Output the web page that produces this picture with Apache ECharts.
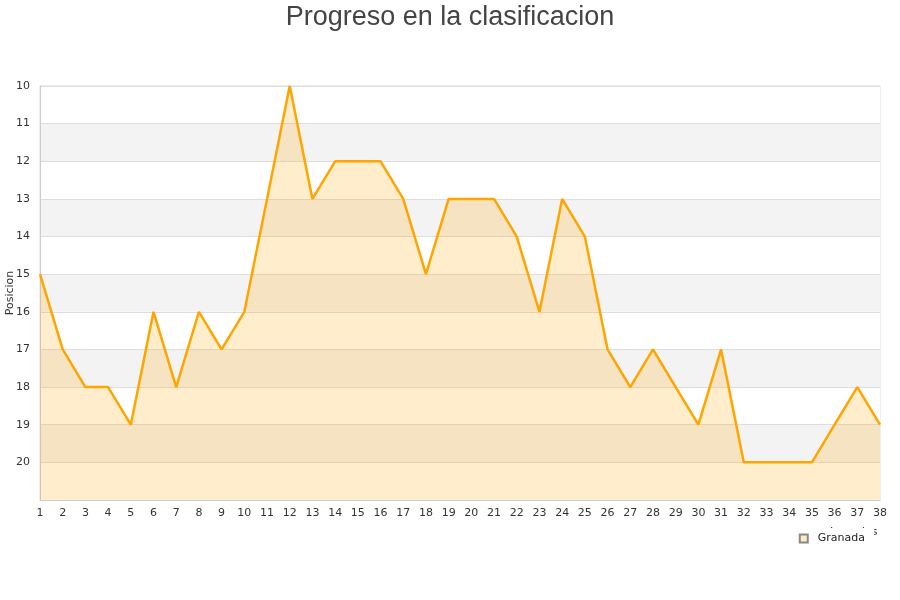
<!DOCTYPE html>
<html>
<head>
<meta charset="utf-8">
<script src="https://cdn.jsdelivr.net/npm/echarts@6/dist/echarts.min.js"></script>
<style>html,body{margin:0;padding:0;background:#fff;}#c{width:900px;height:600px;}</style>
</head>
<body>
<div id="c"></div>
<script>
const jornadas = ['1','2','3','4','5','6','7','8','9','10','11','12','13','14','15','16','17','18','19','20','21','22','23','24','25','26','27','28','29','30','31','32','33','34','35','36','37','38'];
const granada = [15,17,18,18,19,16,18,16,17,16,13,10,13,12,12,12,13,15,13,13,13,14,16,13,14,17,18,17,18,19,17,20,20,20,20,19,18,19];
const titleText = 'Progreso en la clasificacion';
const seriesName = 'Granada';

const chart = echarts.init(document.getElementById('c'));
chart.setOption({
  animation: false,
  backgroundColor: '#fff',
  title: {
    text: titleText,
    left: 'center',
    top: -1,
    textStyle: { fontFamily: 'Liberation Sans, Arial, sans-serif', fontSize: 27, fontWeight: 'normal', color: '#444' }
  },
  legend: {
    data: [{ name: seriesName, icon: 'rect' }],
    right: 26,
    top: 528,
    itemWidth: 8,
    itemHeight: 8,
    itemGap: 6,
    backgroundColor: '#fff',
    padding: [5, 9, 5, 8],
    textStyle: { fontFamily: 'DejaVu Sans, sans-serif', fontSize: 11, color: '#222', padding: [0, 0, 0, 5] }
  },
  grid: {
    left: 40, right: 20, top: 86, bottom: 100,
    outerBoundsMode: 'none',
    containLabel: false,
    show: true, borderColor: '#ddd', borderWidth: 1
  },
  xAxis: {
    type: 'category',
    data: jornadas,
    boundaryGap: false,
    name: 'Jornadas',
    nameLocation: 'end',
    nameGap: -50,
    nameMoveOverlap: false,
    nameTextStyle: { fontFamily: 'DejaVu Sans, sans-serif', fontSize: 11, color: '#333', verticalAlign: 'top', padding: [27, 0, 0, 0] },
    axisLine: { lineStyle: { color: '#ccc' } },
    axisTick: { show: false },
    axisLabel: { fontFamily: 'DejaVu Sans, sans-serif', fontSize: 11, color: '#333', margin: 8, interval: 0 },
    splitLine: { show: false }
  },
  yAxis: {
    type: 'value',
    inverse: true,
    min: 10,
    max: 21,
    interval: 1,
    name: 'Posicion',
    nameLocation: 'middle',
    nameGap: 24,
    nameMoveOverlap: false,
    nameRotate: 90,
    nameTextStyle: { fontFamily: 'DejaVu Sans, sans-serif', fontSize: 11, color: '#333' },
    axisLine: { show: true, lineStyle: { color: '#ccc' } },
    axisTick: { show: false },
    axisLabel: {
      fontFamily: 'DejaVu Sans, sans-serif', fontSize: 11, color: '#333', margin: 10,
      formatter: v => (v === 21 ? '' : String(v))
    },
    splitLine: { show: true, lineStyle: { color: '#ddd' } },
    splitArea: { show: true, areaStyle: { color: ['#ffffff', '#f3f3f3'] } }
  },
  series: [{
    name: seriesName,
    type: 'line',
    data: granada,
    symbol: 'none',
    lineStyle: { color: '#ffa500', width: 2.5 },
    itemStyle: { color: '#fde9c4', borderColor: '#888', borderWidth: 1 },
    areaStyle: { color: 'rgba(255,165,0,0.2)', opacity: 1, origin: 'end' }
  }]
});
</script>
</body>
</html>
